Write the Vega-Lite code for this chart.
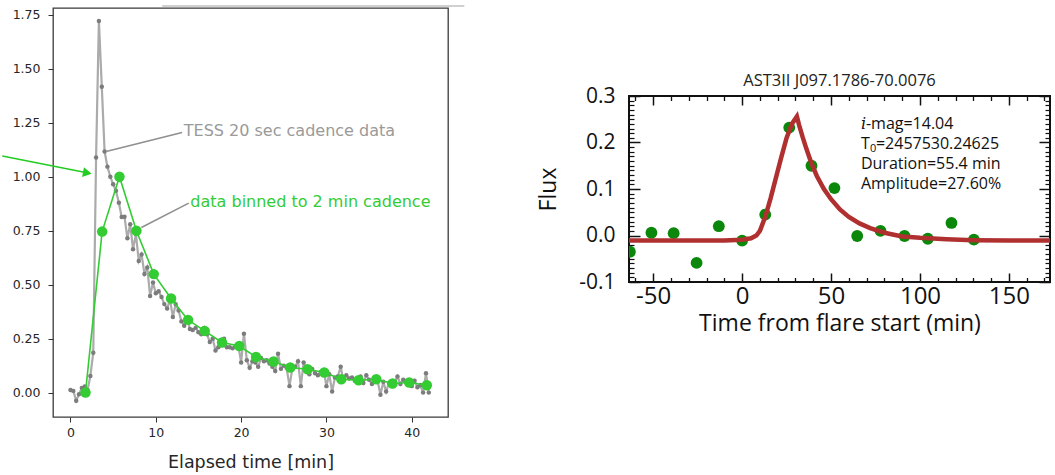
{
  "$schema": "https://vega.github.io/schema/vega-lite/v6.json",
  "background": "white",
  "padding": {"left": 0, "top": 4, "right": 0, "bottom": 0},
  "spacing": 70,
  "config": {"view": {"stroke": null}},
  "datasets": {
    "tess": [
      {"t":0,"f":0.012},{"t":0.33,"f":0.008},{"t":0.67,"f":-0.038},{"t":1,"f":-0.008},{"t":1.33,"f":0.022},{"t":1.67,"f":0.028},{"t":2,"f":0.012},{"t":2.33,"f":0.077},{"t":2.67,"f":0.185},{"t":3,"f":1.089},
      {"t":3.33,"f":1.722},{"t":3.67,"f":1.417},{"t":4,"f":1.117},{"t":4.33,"f":1.047},{"t":4.67,"f":1.0},{"t":5,"f":0.965},{"t":5.33,"f":0.935},{"t":5.67,"f":0.88},{"t":6,"f":0.814},{"t":6.33,"f":0.815},
      {"t":6.67,"f":0.715},{"t":7,"f":0.78},{"t":7.33,"f":0.664},{"t":7.67,"f":0.735},{"t":8,"f":0.61},{"t":8.33,"f":0.64},{"t":8.67,"f":0.55},{"t":9,"f":0.58},{"t":9.33,"f":0.448},{"t":9.67,"f":0.51},
      {"t":10,"f":0.46},{"t":10.33,"f":0.47},{"t":10.67,"f":0.443},{"t":11,"f":0.41},{"t":11.33,"f":0.39},{"t":11.67,"f":0.43},{"t":12,"f":0.35},{"t":12.33,"f":0.41},{"t":12.67,"f":0.38},{"t":13,"f":0.33},
      {"t":13.33,"f":0.31},{"t":13.67,"f":0.345},{"t":14,"f":0.295},{"t":14.33,"f":0.29},{"t":14.67,"f":0.3},{"t":15,"f":0.28},{"t":15.33,"f":0.27},{"t":15.67,"f":0.3},{"t":16,"f":0.27},{"t":16.33,"f":0.235},
      {"t":16.67,"f":0.25},{"t":17,"f":0.195},{"t":17.33,"f":0.21},{"t":17.67,"f":0.24},{"t":18,"f":0.25},{"t":18.33,"f":0.21},{"t":18.67,"f":0.21},{"t":19,"f":0.205},{"t":19.33,"f":0.215},{"t":19.67,"f":0.22},
      {"t":20,"f":0.14},{"t":20.33,"f":0.273},{"t":20.67,"f":0.15},{"t":21,"f":0.115},{"t":21.33,"f":0.145},{"t":21.67,"f":0.14},{"t":22,"f":0.12},{"t":22.33,"f":0.16},{"t":22.67,"f":0.145},{"t":23,"f":0.15},
      {"t":23.33,"f":0.135},{"t":23.67,"f":0.12},{"t":24,"f":0.1},{"t":24.33,"f":0.18},{"t":24.67,"f":0.11},{"t":25,"f":0.125},{"t":25.33,"f":0.115},{"t":25.67,"f":0.03},{"t":26,"f":0.11},{"t":26.33,"f":0.12},
      {"t":26.67,"f":0.145},{"t":27,"f":0.03},{"t":27.33,"f":0.14},{"t":27.67,"f":0.1},{"t":28,"f":0.085},{"t":28.33,"f":0.11},{"t":28.67,"f":0.09},{"t":29,"f":0.08},{"t":29.33,"f":0.095},{"t":29.67,"f":0.105},
      {"t":30,"f":0.03},{"t":30.33,"f":0.085},{"t":30.67,"f":0.005},{"t":31,"f":0.07},{"t":31.33,"f":0.075},{"t":31.67,"f":0.12},{"t":32,"f":0.055},{"t":32.33,"f":0.08},{"t":32.67,"f":0.065},{"t":33,"f":0.07},
      {"t":33.33,"f":0.055},{"t":33.67,"f":0.065},{"t":34,"f":0.075},{"t":34.33,"f":0.045},{"t":34.67,"f":0.08},{"t":35,"f":0.06},{"t":35.33,"f":0.04},{"t":35.67,"f":0.07},{"t":36,"f":0.055},{"t":36.33,"f":-0.01},
      {"t":36.67,"f":0.05},{"t":37,"f":0.005},{"t":37.33,"f":0.045},{"t":37.67,"f":0.03},{"t":38,"f":0.05},{"t":38.33,"f":0.075},{"t":38.67,"f":0.04},{"t":39,"f":0.06},{"t":39.33,"f":0.05},{"t":39.67,"f":0.04},
      {"t":40,"f":0.03},{"t":40.33,"f":0.055},{"t":40.67,"f":0.025},{"t":41,"f":0.035},{"t":41.33,"f":0.0},{"t":41.67,"f":0.09},{"t":42,"f":0.0}
    ],
    "binned": [
      {"t":1.76,"f":0.0},{"t":3.71,"f":0.746},{"t":5.74,"f":1.0},{"t":7.73,"f":0.75},{"t":9.76,"f":0.549},{"t":11.79,"f":0.436},{"t":13.78,"f":0.337},
      {"t":15.73,"f":0.286},{"t":17.76,"f":0.232},{"t":19.79,"f":0.216},{"t":21.75,"f":0.165},{"t":23.8,"f":0.144},{"t":25.76,"f":0.116},{"t":27.79,"f":0.108},
      {"t":29.75,"f":0.093},{"t":31.74,"f":0.062},{"t":33.77,"f":0.057},{"t":35.84,"f":0.062},{"t":37.75,"f":0.042},{"t":39.7,"f":0.047},{"t":41.77,"f":0.034}
    ],
    "leaders": [
      {"t":4.18,"f":1.117,"t2":13.08,"f2":1.205},
      {"t":8.31,"f":0.765,"t2":13.86,"f2":0.878}
    ],
    "arrow": [{"t":-7.99,"f":1.096,"t2":1.62,"f2":1.021}],
    "arrowhead": [{"t":1.97,"f":1.018}],
    "topline": [{"t":10.76,"f":1.791,"t2":46.16,"f2":1.791}],
    "graylabel": [{"t":13.28,"f":1.213,"label":"TESS 20 sec cadence data"}],
    "greenlabel": [{"t":14.05,"f":0.884,"label":"data binned to 2 min cadence"}],
    "flare": [
      {"t":-63.1,"f":-0.035},{"t":-51.0,"f":0.006},{"t":-38.5,"f":0.005},{"t":-25.6,"f":-0.059},{"t":-13.1,"f":0.02},{"t":0.0,"f":-0.011},
      {"t":13.0,"f":0.045},{"t":26.5,"f":0.232},{"t":39.0,"f":0.15},{"t":51.9,"f":0.102},{"t":64.7,"f":-0.001},{"t":77.8,"f":0.01},
      {"t":91.3,"f":-0.001},{"t":104.4,"f":-0.007},{"t":117.7,"f":0.027},{"t":130.3,"f":-0.009}
    ],
    "fit": [
      {"t":-63.6,"f":-0.011},{"t":-30,"f":-0.011},{"t":-10,"f":-0.011},{"t":0,"f":-0.009},{"t":5,"f":-0.006},{"t":8,"f":0.0},{"t":10,"f":0.01},
      {"t":13,"f":0.04},{"t":16,"f":0.08},{"t":19,"f":0.124},{"t":22,"f":0.168},{"t":25,"f":0.21},{"t":28,"f":0.24},{"t":30.8,"f":0.256},
      {"t":32,"f":0.238},{"t":34,"f":0.212},{"t":36,"f":0.188},{"t":39,"f":0.155},{"t":42,"f":0.128},{"t":46,"f":0.1},{"t":50,"f":0.078},
      {"t":55,"f":0.056},{"t":60,"f":0.04},{"t":66,"f":0.026},{"t":72,"f":0.016},{"t":80,"f":0.006},{"t":90,"f":-0.002},{"t":100,"f":-0.005},
      {"t":115,"f":-0.008},{"t":130,"f":-0.01},{"t":150,"f":-0.011},{"t":173.1,"f":-0.011}
    ]
  },
  "hconcat": [
    {
      "width": 395,
      "height": 409,
      "view": {"stroke": "#3a3a3a", "strokeWidth": 1.3},
      "layer": [
        {
          "data": {"name": "tess"},
          "mark": {"type": "line", "color": "#ababab", "strokeWidth": 2.2},
          "encoding": {
            "x": {"field": "t", "type": "quantitative",
              "scale": {"domain": [-2.05, 44.25], "nice": false, "zero": false},
              "axis": {"values": [0, 10, 20, 30, 40], "title": "Elapsed time [min]", "grid": false, "domain": false,
                "tickSize": 5, "tickColor": "#333333", "tickWidth": 1, "labelFont": "DejaVu Sans", "labelFontSize": 12.5,
                "labelColor": "#262626", "labelPadding": 4, "labelFlush": false, "titleFont": "DejaVu Sans",
                "titleFontSize": 17.5, "titleFontWeight": "normal", "titleColor": "#262626", "titlePadding": 15}},
            "y": {"field": "f", "type": "quantitative",
              "scale": {"domain": [-0.113, 1.782], "nice": false, "zero": false},
              "axis": {"values": [0, 0.25, 0.5, 0.75, 1.0, 1.25, 1.5, 1.75], "format": ".2f", "title": null, "grid": false,
                "domain": false, "tickSize": 5, "tickColor": "#333333", "tickWidth": 1, "labelFont": "DejaVu Sans",
                "labelFontSize": 12.5, "labelColor": "#262626", "labelPadding": 8, "labelFlush": false}}
          }
        },
        {
          "data": {"name": "tess"},
          "mark": {"type": "circle", "color": "#7c7c7c", "size": 20, "opacity": 1},
          "encoding": {"x": {"field": "t", "type": "quantitative"}, "y": {"field": "f", "type": "quantitative"}}
        },
        {
          "data": {"name": "binned"},
          "mark": {"type": "line", "color": "#33cc33", "strokeWidth": 1.6},
          "encoding": {"x": {"field": "t", "type": "quantitative"}, "y": {"field": "f", "type": "quantitative"}}
        },
        {
          "data": {"name": "binned"},
          "mark": {"type": "circle", "color": "#33cc33", "size": 110, "opacity": 1},
          "encoding": {"x": {"field": "t", "type": "quantitative"}, "y": {"field": "f", "type": "quantitative"}}
        },
        {
          "data": {"name": "leaders"},
          "mark": {"type": "rule", "color": "#8f8f8f", "strokeWidth": 1.5},
          "encoding": {"x": {"field": "t", "type": "quantitative"}, "y": {"field": "f", "type": "quantitative"},
            "x2": {"field": "t2"}, "y2": {"field": "f2"}}
        },
        {
          "data": {"name": "graylabel"},
          "mark": {"type": "text", "align": "left", "baseline": "middle", "font": "DejaVu Sans", "fontSize": 16, "color": "#9a9a9a"},
          "encoding": {"x": {"field": "t", "type": "quantitative"}, "y": {"field": "f", "type": "quantitative"}, "text": {"field": "label"}}
        },
        {
          "data": {"name": "greenlabel"},
          "mark": {"type": "text", "align": "left", "baseline": "middle", "font": "DejaVu Sans", "fontSize": 16, "color": "#33cc33"},
          "encoding": {"x": {"field": "t", "type": "quantitative"}, "y": {"field": "f", "type": "quantitative"}, "text": {"field": "label"}}
        },
        {
          "data": {"name": "arrow"},
          "mark": {"type": "rule", "color": "#22cc22", "strokeWidth": 1.5},
          "encoding": {"x": {"field": "t", "type": "quantitative"}, "y": {"field": "f", "type": "quantitative"},
            "x2": {"field": "t2"}, "y2": {"field": "f2"}}
        },
        {
          "data": {"name": "arrowhead"},
          "mark": {"type": "point", "shape": "triangle-right", "filled": true, "color": "#22cc22", "size": 100, "angle": 11, "opacity": 1},
          "encoding": {"x": {"field": "t", "type": "quantitative"}, "y": {"field": "f", "type": "quantitative"}}
        },
        {
          "data": {"name": "topline"},
          "mark": {"type": "rule", "color": "#d0d0d0", "strokeWidth": 2},
          "encoding": {"x": {"field": "t", "type": "quantitative"}, "y": {"field": "f", "type": "quantitative"},
            "x2": {"field": "t2"}, "y2": {"field": "f2"}}
        }
      ]
    },
    {
      "spacing": 0,
      "vconcat": [
        {
          "width": 1,
          "height": 63,
          "view": {"stroke": null},
          "data": {"values": [{"a": 1}]},
          "mark": {"type": "point", "opacity": 0},
          "encoding": {}
        },
        {
          "width": 421,
          "height": 186,
          "view": {"stroke": "#111111", "strokeWidth": 2},
          "title": {"text": "AST3II J097.1786-70.0076", "font": "Open Sans", "fontSize": 16.5, "fontWeight": "normal",
            "color": "#222222", "offset": -4, "anchor": "middle"},
          "resolve": {"axis": {"x": "independent", "y": "independent"}},
          "layer": [
            {
              "data": {"name": "flare"},
              "mark": {"type": "circle", "color": "#0b870b", "size": 140, "opacity": 1, "clip": true},
              "encoding": {
                "x": {"field": "t", "type": "quantitative",
                  "scale": {"domain": [-63.6, 173.1], "nice": false, "zero": false},
                  "axis": {"orient": "bottom", "values": [-50, 0, 50, 100, 150], "labelExpr": "datum.value < 0 ? '-' + (-datum.value) : '' + datum.value",
                    "ticks": false, "tickSize": 0, "domain": false, "grid": false, "labelFont": "Open Sans", "labelFontSize": 24,
                    "labelColor": "#111111", "labelPadding": 2, "labelFlush": false, "labelOverlap": false,
                    "title": "Time from flare start (min)", "titleFont": "Open Sans", "titleFontSize": 23, "titleFontWeight": "normal",
                    "titleColor": "#111111", "titlePadding": 4}},
                "y": {"field": "f", "type": "quantitative",
                  "scale": {"domain": [-0.1, 0.3], "nice": false, "zero": false},
                  "axis": {"orient": "left", "values": [-0.1, 0, 0.1, 0.2, 0.3],
                    "labelExpr": "datum.value < 0 ? '-' + format(-datum.value, '.1f') : format(datum.value, '.1f')",
                    "ticks": false, "tickSize": 0, "domain": false, "grid": false, "labelFont": "Open Sans", "labelFontSize": 21,
                    "labelColor": "#111111", "labelPadding": 14, "labelFlush": false, "labelOverlap": false,
                    "title": "Flux", "titleFont": "Open Sans", "titleFontSize": 23, "titleFontWeight": "normal",
                    "titleColor": "#111111", "titlePadding": 18}}
              }
            },
            {
              "data": {"name": "fit"},
              "mark": {"type": "line", "color": "#b03030", "strokeWidth": 4.5, "clip": true},
              "encoding": {"x": {"field": "t", "type": "quantitative", "axis": null}, "y": {"field": "f", "type": "quantitative", "axis": null}}
            },
            {
              "data": {"values": [{"t": 66.8, "f": 0.2404, "label": "i"}]},
              "mark": {"type": "text", "align": "left", "baseline": "middle", "font": "DejaVu Serif", "fontStyle": "italic", "fontSize": 16, "color": "#111111"},
              "encoding": {"x": {"field": "t", "type": "quantitative", "axis": null}, "y": {"field": "f", "type": "quantitative", "axis": null}, "text": {"field": "label"}}
            },
            {
              "data": {"values": [{"t": 66.8, "f": 0.2404, "label": "-mag=14.04"}]},
              "mark": {"type": "text", "align": "left", "baseline": "middle", "font": "Open Sans", "fontSize": 16, "color": "#111111", "dx": 5},
              "encoding": {"x": {"field": "t", "type": "quantitative", "axis": null}, "y": {"field": "f", "type": "quantitative", "axis": null}, "text": {"field": "label"}}
            },
            {
              "data": {"values": [{"t": 66.8, "f": 0.1974, "label": "T"}]},
              "mark": {"type": "text", "align": "left", "baseline": "middle", "font": "Open Sans", "fontSize": 16, "color": "#111111"},
              "encoding": {"x": {"field": "t", "type": "quantitative", "axis": null}, "y": {"field": "f", "type": "quantitative", "axis": null}, "text": {"field": "label"}}
            },
            {
              "data": {"values": [{"t": 66.8, "f": 0.1974, "label": "0"}]},
              "mark": {"type": "text", "align": "left", "baseline": "middle", "font": "Open Sans", "fontSize": 11, "color": "#111111", "dx": 9, "dy": 5},
              "encoding": {"x": {"field": "t", "type": "quantitative", "axis": null}, "y": {"field": "f", "type": "quantitative", "axis": null}, "text": {"field": "label"}}
            },
            {
              "data": {"values": [{"t": 66.8, "f": 0.1974, "label": "=2457530.24625"}]},
              "mark": {"type": "text", "align": "left", "baseline": "middle", "font": "Open Sans", "fontSize": 16, "color": "#111111", "dx": 15},
              "encoding": {"x": {"field": "t", "type": "quantitative", "axis": null}, "y": {"field": "f", "type": "quantitative", "axis": null}, "text": {"field": "label"}}
            },
            {
              "data": {"values": [{"t": 66.8, "f": 0.1544, "label": "Duration=55.4 min"}, {"t": 66.8, "f": 0.1114, "label": "Amplitude=27.60%"}]},
              "mark": {"type": "text", "align": "left", "baseline": "middle", "font": "Open Sans", "fontSize": 16, "color": "#111111"},
              "encoding": {"x": {"field": "t", "type": "quantitative", "axis": null}, "y": {"field": "f", "type": "quantitative", "axis": null}, "text": {"field": "label"}}
            },
            {
              "data": {"name": "fit"},
              "mark": {"type": "point", "opacity": 0, "clip": true},
              "encoding": {
                "x": {"field": "t", "type": "quantitative", "axis": {"orient": "bottom", "values": [-50, 0, 50, 100, 150], "labels": false, "domain": false, "grid": false, "title": null, "tickSize": 9, "offset": -9, "tickColor": "#111111", "tickWidth": 1.5}},
                "y": {"field": "f", "type": "quantitative", "axis": null}
              }
            },
            {
              "data": {"name": "fit"},
              "mark": {"type": "point", "opacity": 0, "clip": true},
              "encoding": {
                "x": {"field": "t", "type": "quantitative", "axis": {"orient": "bottom", "values": [-60, -40, -30, -20, -10, 10, 20, 30, 40, 60, 70, 80, 90, 110, 120, 130, 140, 160, 170], "labels": false, "domain": false, "grid": false, "title": null, "tickSize": 4.5, "offset": -4.5, "tickColor": "#111111", "tickWidth": 1.3}},
                "y": {"field": "f", "type": "quantitative", "axis": null}
              }
            },
            {
              "data": {"name": "fit"},
              "mark": {"type": "point", "opacity": 0, "clip": true},
              "encoding": {
                "x": {"field": "t", "type": "quantitative", "axis": {"orient": "top", "values": [-50, 0, 50, 100, 150], "labels": false, "domain": false, "grid": false, "title": null, "tickSize": 9, "offset": -9, "tickColor": "#111111", "tickWidth": 1.5}},
                "y": {"field": "f", "type": "quantitative", "axis": null}
              }
            },
            {
              "data": {"name": "fit"},
              "mark": {"type": "point", "opacity": 0, "clip": true},
              "encoding": {
                "x": {"field": "t", "type": "quantitative", "axis": {"orient": "top", "values": [-60, -40, -30, -20, -10, 10, 20, 30, 40, 60, 70, 80, 90, 110, 120, 130, 140, 160, 170], "labels": false, "domain": false, "grid": false, "title": null, "tickSize": 4.5, "offset": -4.5, "tickColor": "#111111", "tickWidth": 1.3}},
                "y": {"field": "f", "type": "quantitative", "axis": null}
              }
            },
            {
              "data": {"name": "fit"},
              "mark": {"type": "point", "opacity": 0, "clip": true},
              "encoding": {
                "x": {"field": "t", "type": "quantitative", "axis": null},
                "y": {"field": "f", "type": "quantitative", "axis": {"orient": "left", "values": [-0.1, 0, 0.1, 0.2, 0.3], "labels": false, "domain": false, "grid": false, "title": null, "tickSize": 11, "offset": -11, "tickColor": "#111111", "tickWidth": 1.5}}
              }
            },
            {
              "data": {"name": "fit"},
              "mark": {"type": "point", "opacity": 0, "clip": true},
              "encoding": {
                "x": {"field": "t", "type": "quantitative", "axis": null},
                "y": {"field": "f", "type": "quantitative", "axis": {"orient": "left", "values": [-0.09,-0.08,-0.07,-0.06,-0.05,-0.04,-0.03,-0.02,-0.01,0.01,0.02,0.03,0.04,0.05,0.06,0.07,0.08,0.09,0.11,0.12,0.13,0.14,0.15,0.16,0.17,0.18,0.19,0.21,0.22,0.23,0.24,0.25,0.26,0.27,0.28,0.29], "labels": false, "domain": false, "grid": false, "title": null, "tickSize": 5, "offset": -5, "tickColor": "#111111", "tickWidth": 1.2}}
              }
            },
            {
              "data": {"name": "fit"},
              "mark": {"type": "point", "opacity": 0, "clip": true},
              "encoding": {
                "x": {"field": "t", "type": "quantitative", "axis": null},
                "y": {"field": "f", "type": "quantitative", "axis": {"orient": "right", "values": [-0.1, 0, 0.1, 0.2, 0.3], "labels": false, "domain": false, "grid": false, "title": null, "tickSize": 11, "offset": -11, "tickColor": "#111111", "tickWidth": 1.5}}
              }
            },
            {
              "data": {"name": "fit"},
              "mark": {"type": "point", "opacity": 0, "clip": true},
              "encoding": {
                "x": {"field": "t", "type": "quantitative", "axis": null},
                "y": {"field": "f", "type": "quantitative", "axis": {"orient": "right", "values": [-0.09,-0.08,-0.07,-0.06,-0.05,-0.04,-0.03,-0.02,-0.01,0.01,0.02,0.03,0.04,0.05,0.06,0.07,0.08,0.09,0.11,0.12,0.13,0.14,0.15,0.16,0.17,0.18,0.19,0.21,0.22,0.23,0.24,0.25,0.26,0.27,0.28,0.29], "labels": false, "domain": false, "grid": false, "title": null, "tickSize": 5, "offset": -5, "tickColor": "#111111", "tickWidth": 1.2}}
              }
            }
          ]
        }
      ]
    }
  ]
}
